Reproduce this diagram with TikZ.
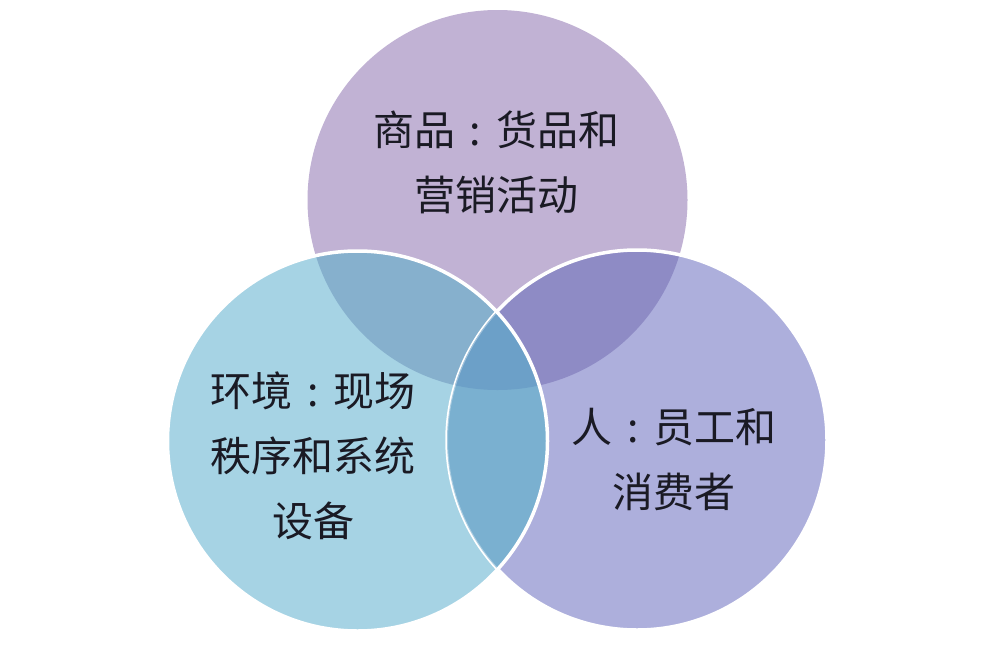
\documentclass[tikz,border=0pt]{standalone}
\usepackage{fontspec}
\newfontfamily\cjk{Noto Sans CJK SC}
\definecolor{ctop}{HTML}{C1B2D4}
\definecolor{cleft}{HTML}{A6D3E4}
\definecolor{cright}{HTML}{ADAFDC}
\definecolor{ctl}{HTML}{86B0CD}
\definecolor{ctr}{HTML}{8E8BC5}
\definecolor{clr}{HTML}{7AB0D0}
\definecolor{call}{HTML}{6CA0C8}
\definecolor{ink}{HTML}{1A1A24}
\newcommand{\fwcolon}{\makebox[1em][c]{:}}
\tikzset{
  lbl/.style={font=\cjk\fontsize{41}{65}\selectfont, text=ink, align=center, inner sep=0pt},
  rim/.style={draw=white, line width=3.5pt}
}
\begin{document}
\begin{tikzpicture}[x=1pt,y=-1pt]
\useasboundingbox (0,0) rectangle (1000,645);
\fill[white] (0,0) rectangle (1000,645);
\coordinate (T) at (497.5,200);
\coordinate (L) at (357.5,441);
\coordinate (R) at (637,440);
\def\rr{190pt}
% base fills
\fill[ctop] (T) circle[radius=\rr];
\fill[cright] (R) circle[radius=\rr];
\fill[cleft] (L) circle[radius=\rr];
% pairwise overlaps
\begin{scope}
  \clip (T) circle[radius=\rr];
  \fill[ctr] (R) circle[radius=\rr];
  \fill[ctl] (L) circle[radius=\rr];
\end{scope}
% right rim
\draw[rim] (R) circle[radius=\rr];
\begin{scope}
  \clip (L) circle[radius=\rr];
  \fill[clr] (R) circle[radius=\rr];
  \clip (T) circle[radius=\rr];
  \fill[call] (R) circle[radius=\rr];
\end{scope}
\begin{scope}
  \clip (L) circle[radius=\rr];
  \draw[white, opacity=0.35, line width=2pt] (R) circle[radius=\rr];
\end{scope}
% left rim
\draw[rim] (L) circle[radius=\rr];
% labels
\node[lbl] (top) at (496,162) {商品\fwcolon 货品和\\营销活动};
\node[lbl] (left) at (313,456) {环境\fwcolon 现场\\秩序和系统\\设备};
\node[lbl] (right) at (674,459) {人\fwcolon 员工和\\消费者};
\end{tikzpicture}
\end{document}
